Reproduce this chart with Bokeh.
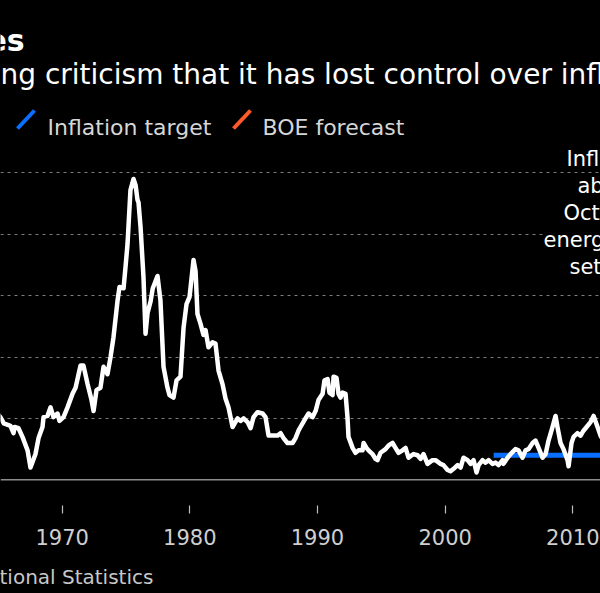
from bokeh.plotting import figure
from bokeh.layouts import column
from bokeh.models import Range1d, FixedTicker, Grid, Span, Label
from bokeh.embed import file_html
from bokeh.resources import INLINE

# ---------------- data ----------------
years = [1965.0, 1965.17, 1965.43, 1965.95, 1966.19, 1966.27, 1966.58, 1966.89, 1967.29, 1967.52,
         1967.91, 1968.15, 1968.46, 1968.54, 1968.85, 1969.09, 1969.32, 1969.64, 1969.79, 1970.11,
         1970.42, 1970.81, 1971.05, 1971.44, 1971.67, 1971.99, 1972.30, 1972.46, 1972.69, 1973.00,
         1973.24, 1973.55, 1973.79, 1974.02, 1974.34, 1974.49, 1974.81, 1974.96, 1975.12, 1975.35,
         1975.59, 1975.75, 1975.90, 1975.98, 1976.14, 1976.37, 1976.53, 1976.69, 1976.92, 1977.10,
         1977.47, 1977.70, 1977.94, 1978.25, 1978.41, 1978.72, 1978.96, 1979.27, 1979.51, 1979.74,
         1979.98, 1980.29, 1980.45, 1980.60, 1980.84, 1981.07, 1981.23, 1981.46, 1981.78, 1982.01,
         1982.25, 1982.56, 1982.80, 1983.03, 1983.35, 1983.74, 1983.97, 1984.21, 1984.52, 1984.76,
         1984.99, 1985.30, 1985.70, 1985.93, 1986.17, 1986.48, 1986.87, 1987.11, 1987.34, 1987.65,
         1988.05, 1988.28, 1988.51, 1988.67, 1989.06, 1989.30, 1989.61, 1989.85, 1990.08, 1990.40,
         1990.55, 1990.79, 1990.94, 1991.18, 1991.26, 1991.49, 1991.65, 1991.81, 1991.96, 1992.20,
         1992.35, 1992.43, 1992.75, 1992.98, 1993.21, 1993.53, 1993.61, 1993.84, 1994.00, 1994.31,
         1994.55, 1994.70, 1994.94, 1995.33, 1995.57, 1995.88, 1996.11, 1996.35, 1996.66, 1996.90,
         1997.13, 1997.52, 1997.84, 1998.07, 1998.31, 1998.62, 1999.01, 1999.25, 1999.64, 1999.87,
         2000.19, 2000.42, 2000.66, 2000.97, 2001.21, 2001.44, 2001.76, 2001.99, 2002.23, 2002.46,
         2002.62, 2002.93, 2003.17, 2003.40, 2003.71, 2003.95, 2004.18, 2004.50, 2004.57, 2004.89,
         2005.12, 2005.51, 2005.75, 2006.06, 2006.30, 2006.53, 2006.85, 2007.08, 2007.32, 2007.63,
         2007.87, 2008.10, 2008.41, 2008.65, 2008.80, 2009.04, 2009.27, 2009.59, 2009.67, 2009.90,
         2010.06, 2010.37, 2010.61, 2010.84, 2011.16, 2011.39, 2011.63, 2011.94, 2012.17, 2012.50]
cpi = [5.3, 5.1, 4.6, 4.4, 3.8, 4.3, 4.2, 3.5, 2.4, 1.0,
       2.1, 3.4, 4.3, 5.1, 5.2, 5.9, 5.1, 5.4, 4.8, 5.1,
       5.9, 7.0, 7.5, 9.3, 9.3, 7.8, 6.5, 5.6, 7.3, 7.5,
       9.2, 8.6, 10.0, 11.6, 14.6, 15.7, 15.6, 17.3, 19.2, 23.6,
       24.5, 24.0, 22.8, 22.6, 20.6, 16.5, 11.9, 13.6, 14.5, 15.6,
       16.6, 14.6, 9.2, 7.5, 6.9, 6.7, 8.1, 8.4, 12.4, 14.3,
       14.9, 17.9, 17.0, 13.5, 12.7, 11.8, 12.2, 10.8, 11.2, 11.1,
       8.9, 7.8, 6.6, 5.9, 4.3, 5.0, 4.8, 5.0, 4.7, 4.2,
       5.1, 5.5, 5.4, 5.1, 3.6, 3.6, 3.6, 3.8, 3.4, 3.0,
       3.0, 3.4, 4.0, 4.3, 5.0, 5.4, 5.1, 5.6, 6.5, 7.0,
       8.1, 8.2, 7.1, 6.9, 8.4, 8.3, 7.0, 6.7, 7.1, 7.0,
       5.1, 3.5, 2.6, 2.2, 2.4, 2.4, 3.0, 2.6, 2.4, 2.1,
       1.7, 1.6, 2.2, 2.5, 2.8, 3.0, 2.6, 2.2, 2.4, 2.6,
       1.8, 2.1, 2.0, 1.7, 2.1, 1.3, 1.6, 1.6, 1.3, 1.2,
       0.8, 0.7, 0.9, 1.2, 1.0, 1.8, 1.6, 1.3, 1.6, 0.6,
       1.2, 1.6, 1.4, 1.6, 1.3, 1.4, 1.2, 1.6, 1.3, 1.8,
       2.1, 2.5, 2.4, 1.8, 2.4, 2.5, 3.0, 3.2, 2.6, 1.8,
       2.1, 3.2, 4.3, 5.2, 4.3, 3.0, 2.5, 1.6, 1.1, 3.0,
       3.5, 3.8, 3.6, 4.0, 4.4, 4.7, 5.2, 4.3, 3.6, 3.0]

target_years = [2003.8, 2013.0]
target_values = [2.0, 2.0]

x_ticks = [1970, 1980, 1990, 2000, 2010]
grid_values = [5, 10, 15, 20, 25]

title_text = "es"
subtitle_text = "ng criticism that it has lost control over inflation"
legend_labels = ["Inflation target", "BOE forecast"]
note_lines = ["Inflation", "above", "October", "energy", "set"]
source_text = "tional Statistics"

# ---------------- styling ----------------
FONT = "DejaVu Sans"
BLUE = "#0A6EFF"
ORANGE = "#FF5A28"
W = 600
FRAME_H = 505
MAIN_H = 560
FOOT_H = 593 - MAIN_H
X0, X1 = 1965.17, 2012.17
Y0, Y1 = -2.09, 39.03

p = figure(width=W, height=MAIN_H, x_range=Range1d(X0, X1), y_range=Range1d(Y0, Y1),
           output_backend="svg", toolbar_location=None, y_axis_location=None,
           min_border_left=0, min_border_right=0, min_border_top=0,
           min_border_bottom=MAIN_H - FRAME_H,
           background_fill_color="black", border_fill_color="black", outline_line_color=None)

for g in p.grid:
    g.visible = False

p.add_layout(Grid(dimension=1, ticker=FixedTicker(ticks=grid_values),
                  grid_line_color="#7c7c7c", grid_line_dash="3 4", grid_line_width=1.2))
p.add_layout(Span(location=0, dimension="width", line_color="#8c8c8c", line_width=1.5))

ax = p.xaxis[0]
ax.ticker = FixedTicker(ticks=x_ticks)
ax.axis_line_color = None
ax.major_tick_in = 0
ax.major_tick_out = 8
ax.major_tick_line_color = "#bdbdbd"
ax.major_tick_line_width = 1.2
ax.minor_tick_line_color = None
ax.major_label_text_font = FONT
ax.major_label_text_font_size = "21px"
ax.major_label_text_color = "#cfcfcf"
ax.major_label_standoff = 15

p.line(target_years, target_values, line_color=BLUE, line_width=5)
p.line(years, cpi, line_color="white", line_width=4.5, line_join="round")


def px2x(px):
    return X0 + px / W * (X1 - X0)


def py2y(py):
    return Y1 - py / FRAME_H * (Y1 - Y0)


# legend swatches (slashes)
p.segment(x0=[px2x(17), px2x(233)], y0=[py2y(128), py2y(128)],
          x1=[px2x(34), px2x(250)], y1=[py2y(110), py2y(110)],
          line_color=[BLUE, ORANGE], line_width=4)


def lab(text, x, y_from_bottom, size, color, bold=False, bg=None):
    return Label(x=x, y=y_from_bottom, x_units="screen", y_units="screen", text=text,
                 text_font=FONT, text_font_size=f"{size}px", text_color=color,
                 text_font_style="bold" if bold else "normal", text_align="left",
                 text_baseline="alphabetic", background_fill_color=bg)


p.add_layout(lab(title_text, -14, FRAME_H - 40, 30, "white", bold=True))
p.add_layout(lab(subtitle_text, 0, FRAME_H - 74, 28, "white"))
p.add_layout(lab(legend_labels[0], 47, FRAME_H - 127, 22, "#d6d6d6"))
p.add_layout(lab(legend_labels[1], 262, FRAME_H - 127, 22, "#d6d6d6"))

note_x = [566, 577, 563, 543, 569]
for i, t in enumerate(note_lines):
    p.add_layout(lab(t, note_x[i], FRAME_H - (158 + 27 * i), 21, "white", bg="black"))

# footer (source line)
foot = figure(width=W, height=FOOT_H, x_range=Range1d(0, 1), y_range=Range1d(0, 1),
              output_backend="svg", toolbar_location=None, x_axis_location=None,
              y_axis_location=None, min_border=0,
              background_fill_color="black", border_fill_color="black", outline_line_color=None)
for g in foot.grid:
    g.visible = False
foot.add_layout(lab(source_text, -1, 17, 20, "#c8c8c8"))

layout = column(p, foot, spacing=0, styles={"background-color": "black"})

html = file_html(layout, INLINE)
html = html.replace("</head>", "<style>html,body{margin:0;padding:0;background:#000;overflow:hidden}</style></head>", 1)
open("out.html", "w").write(html)
